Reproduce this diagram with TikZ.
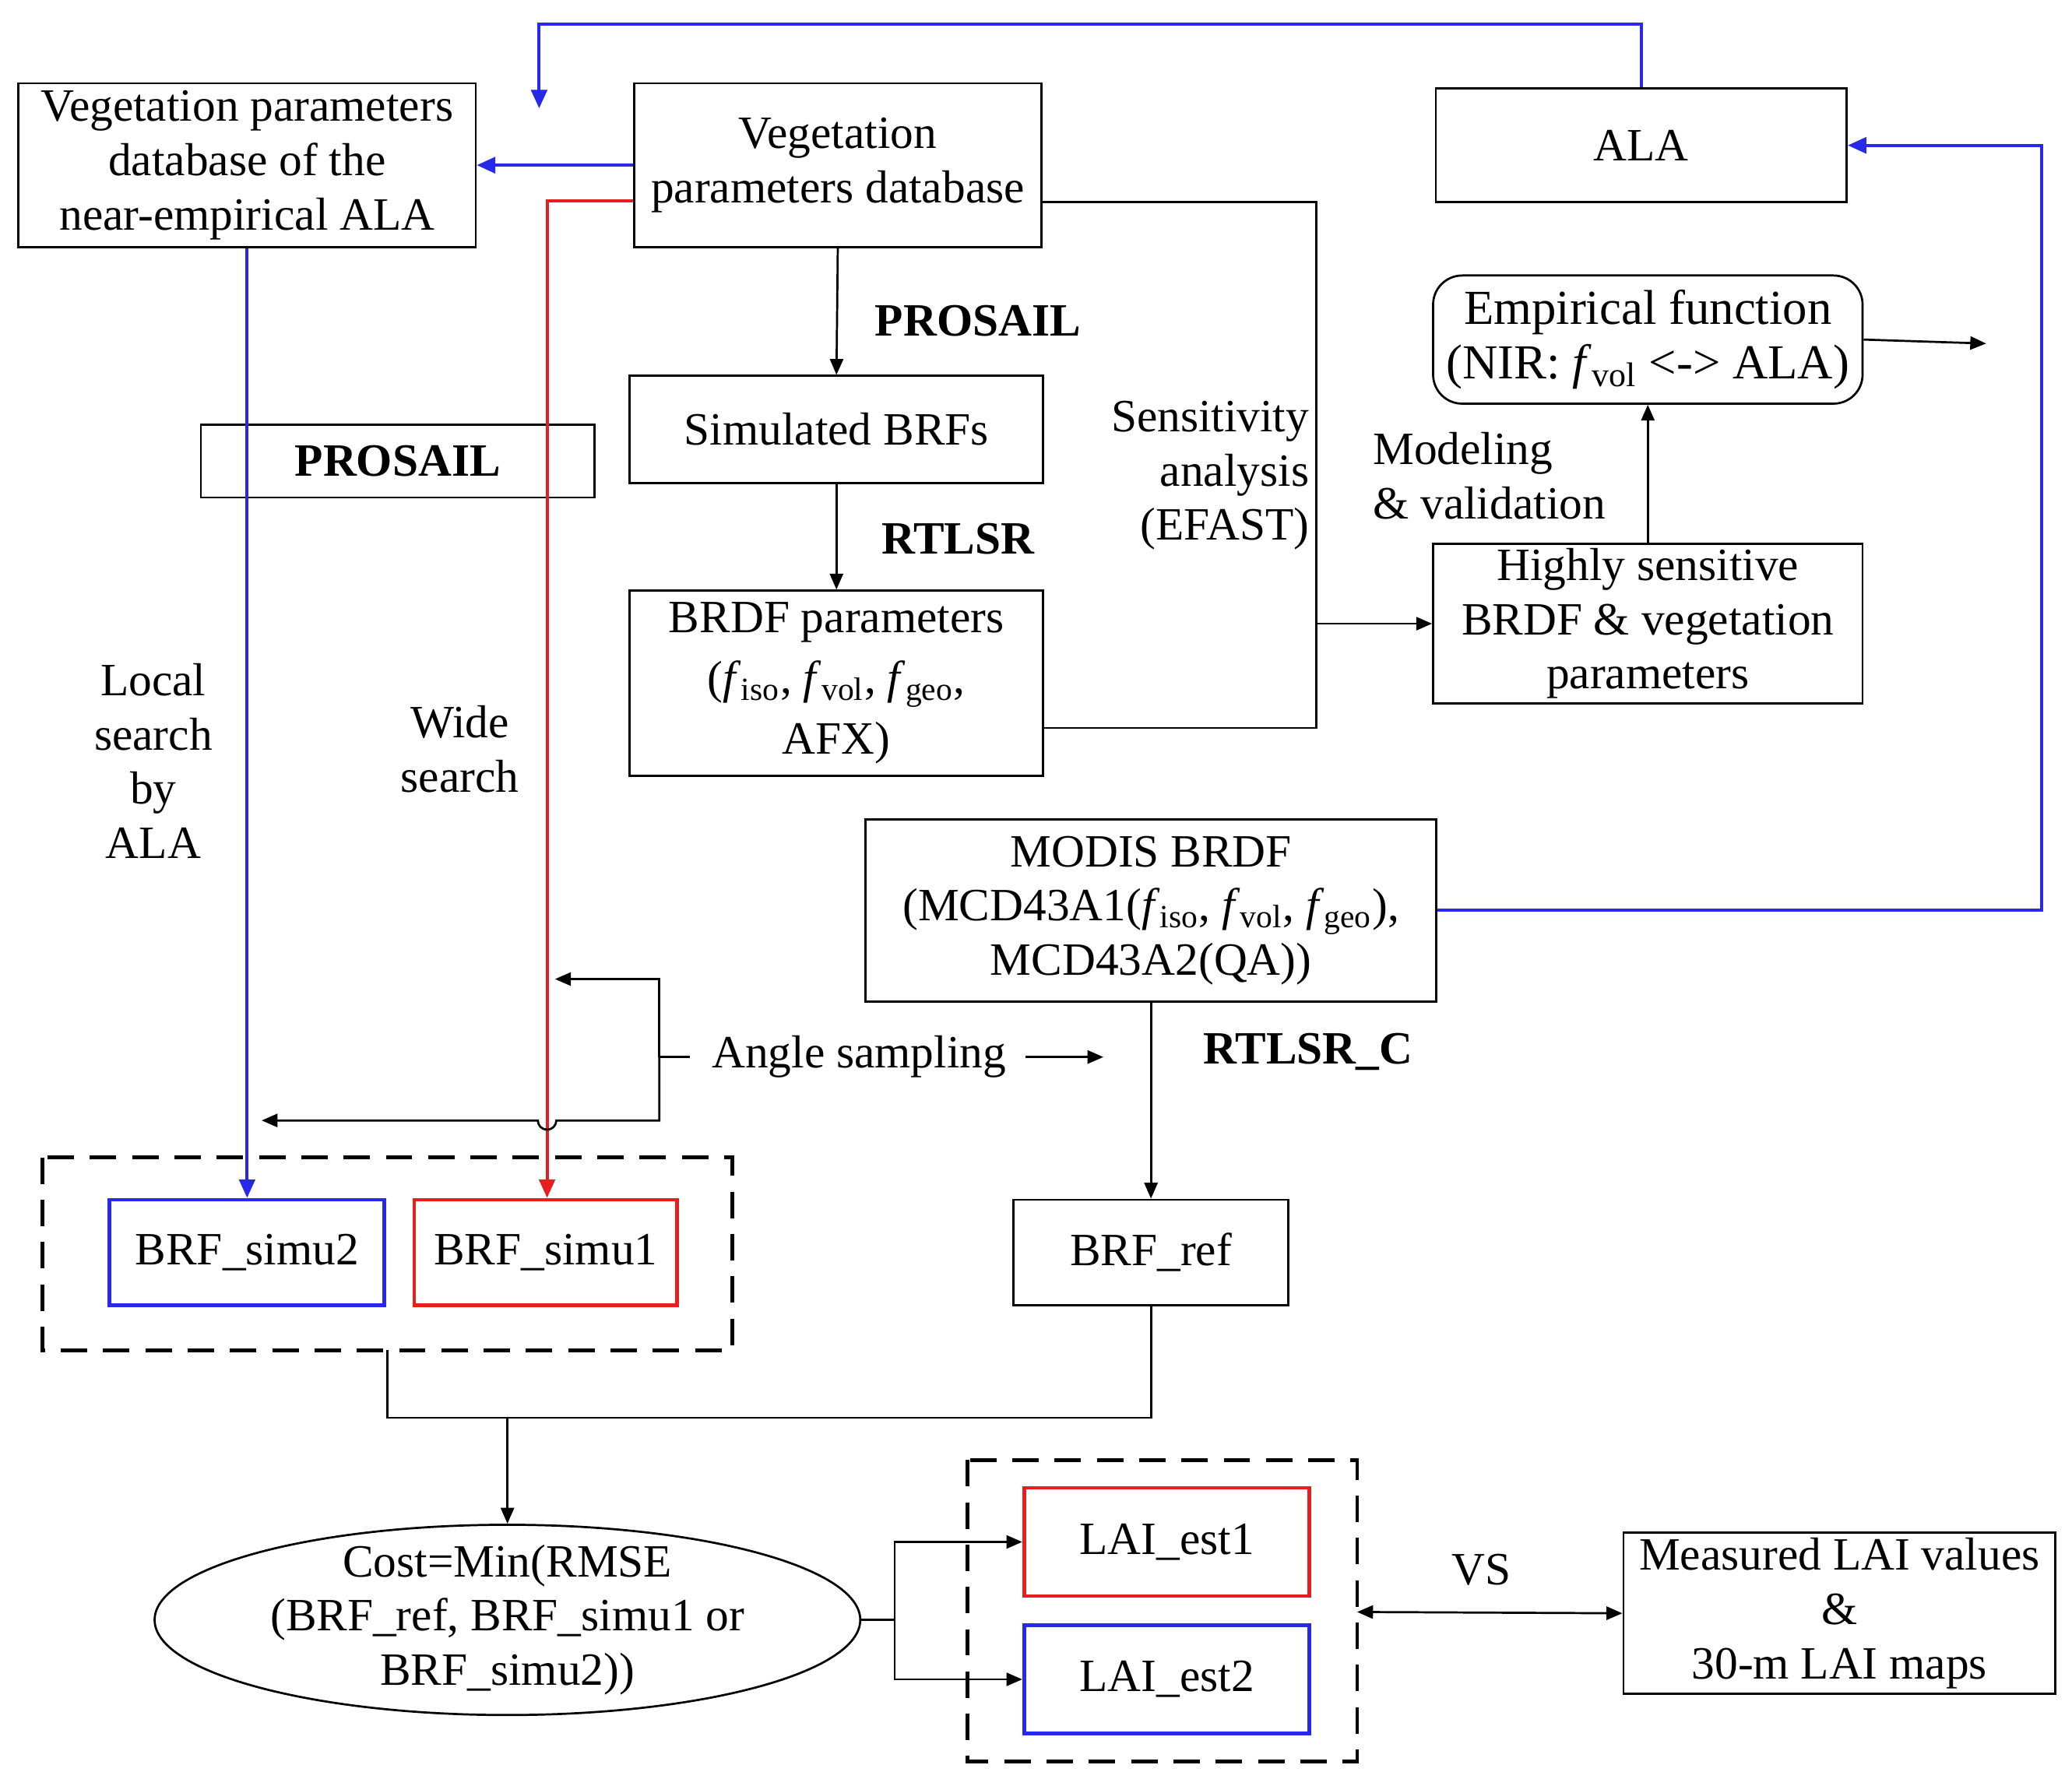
\documentclass[tikz,border=0pt]{standalone}
\usepackage{fontspec}
\setmainfont{Liberation Serif}
\usetikzlibrary{arrows.meta,shapes.geometric}
\newcommand{\fs}[1]{\textit{f}\textsubscript{#1}}
\definecolor{myblue}{RGB}{40,40,235}
\definecolor{myred}{RGB}{230,30,30}
\begin{document}
\begin{tikzpicture}[x=0.5pt,y=-0.5pt,
  every node/.style={font=\fontsize{17.5}{20.5}\selectfont},
  box/.style={draw,line width=0.8pt,align=center,inner sep=0pt},
  ln/.style={line width=0.8pt},
  arr/.style={ln,-{Triangle[length=6pt,width=5pt]}},
  bl/.style={myblue,line width=1.2pt},
  rd/.style={myred,line width=1.2pt},
  dsh/.style={draw,line width=1.4pt,dash pattern=on 10pt off 6pt},
  lbl/.style={align=center,inner sep=0pt}]
\useasboundingbox (0,0) rectangle (1568,1346);
% boxes
\node[box,minimum width=173,minimum height=62] (vala) at (187,125) {Vegetation parameters\\database of the\\near-empirical ALA};
\node[box,minimum width=154,minimum height=62] (vp) at (634,125) {Vegetation\\parameters database};
\node[box,minimum width=155.5,minimum height=43] (ala) at (1242,110) {ALA};
\node[box,rounded corners=11pt,minimum width=162.5,minimum height=48.5] (emp) at (1247,257) {\fontsize{18.5}{24}\selectfont Empirical function\\\fontsize{18.5}{24}\selectfont (NIR: \fs{vol} <-> ALA)};
\node[box,minimum width=156.5,minimum height=40.5] (sim) at (633,325) {Simulated BRFs};
\node[box,minimum width=156.5,minimum height=70,font=\fontsize{17.5}{23}\selectfont] (bp) at (633,517) {BRDF parameters\\(\fs{iso}, \fs{vol}, \fs{geo},\\AFX)};
\node[box,minimum width=149,minimum height=27.5,font=\fontsize{17.5}{20}\selectfont\bfseries] (ps) at (301,349) {PROSAIL};
\node[box,minimum width=162.5,minimum height=60.5] (hs) at (1247,472) {Highly sensitive\\BRDF \& vegetation\\parameters};
\node[box,minimum width=216,minimum height=69] (mod) at (871,689) {MODIS BRDF\\(MCD43A1(\fs{iso}, \fs{vol}, \fs{geo}),\\MCD43A2(QA))};
\node[box,minimum width=104,minimum height=40] (ref) at (871,948) {BRF\_ref};
\node[box,draw=myblue,line width=1.4pt,minimum width=104,minimum height=40] (s2) at (187,948) {BRF\_simu2};
\node[box,draw=myred,line width=1.4pt,minimum width=99.5,minimum height=40] (s1) at (413,948) {BRF\_simu1};
\draw[dsh] (32,876) rectangle (554,1022);
\coordinate (d1b) at (293,1022);
\node[draw,ellipse,line width=0.8pt,minimum width=267,minimum height=72,inner sep=0pt] (cost) at (384,1226) {};
\node[lbl] (costt) at (384,1226) {Cost=Min(RMSE\\(BRF\_ref, BRF\_simu1 or\\BRF\_simu2))};
\node[box,draw=myred,line width=1.4pt,minimum width=108,minimum height=41] (l1) at (883,1167) {LAI\_est1};
\node[box,draw=myblue,line width=1.4pt,minimum width=108,minimum height=41] (l2) at (883,1271) {LAI\_est2};
\draw[dsh] (732,1105) rectangle (1027,1333);
\coordinate (d2l) at (1027,1220);
\node[box,minimum width=163.5,minimum height=61] (meas) at (1392,1221) {Measured LAI values\\\&\\30-m LAI maps};
% labels
\node[lbl,font=\fontsize{17.5}{20}\selectfont\bfseries] at (740,243) {PROSAIL};
\node[lbl,font=\fontsize{17.5}{20}\selectfont\bfseries] at (725,408) {RTLSR};
\node[lbl,font=\fontsize{17.5}{20}\selectfont\bfseries] at (990,796) {RTLSR\_C};
\node[lbl,align=right,anchor=east] at (991,360) {Sensitivity\\analysis\\(EFAST)};
\node[lbl,align=left] at (1127,360) {Modeling\\\& validation};
\node[lbl] at (116,576) {Local\\search\\by\\ALA};
\node[lbl] at (348,567) {Wide\\search};
\node[lbl] (ang) at (650,800) {Angle sampling};
\node[lbl] at (1121,1188) {VS};
% connectors
\draw[bl,-{Triangle[length=7pt,width=6pt]}] (ala.north) -- (1242,18) -- (408,18) -- (408,82);
\draw[bl,-{Triangle[length=7pt,width=6pt]}] (vp.west) -- (vala.east);
\draw[rd,-{Triangle[length=7pt,width=6pt]}] (vp.west |- 0,152) -- (414,152) -- (s1.north -| 414,0);
\draw[bl,-{Triangle[length=7pt,width=6pt]}] (vala.south) -- (s2.north);
\draw[arr] (vp.south) -- (sim.north);
\draw[arr] (sim.south) -- (bp.north);
\draw[ln] (vp.east |- 0,153) -- (996,153) -- (996,551) -- (bp.east |- 0,551);
\draw[arr] (996,472) -- (hs.west);
\draw[arr] (hs.north) -- (emp.south);
\draw[arr] (emp.east) -- (1503,260);
\draw[bl,-{Triangle[length=7pt,width=6pt]}] (mod.east) -- (1545,689) -- (1545,110) -- (ala.east);
\draw[arr] (mod.south) -- (ref.north);
\draw[arr] (776,800) -- (835,800);
\draw[ln] (ang.west) ++(-16,0) -- (499,800);
\draw[arr] (499,800) -- (499,741) -- (420,741);
\draw[arr] (499,800) -- (499,848) -- (421,848) arc[start angle=0,end angle=180,radius=7] -- (198,848);
\draw[ln] (d1b) -- (293,1073) -- (871,1073) -- (ref.south);
\draw[arr] (384,1073) -- (cost.north);
\draw[ln] (cost.east) -- (677,1226);
\draw[arr] (677,1226) -- (677,1167) -- (l1.west);
\draw[arr] (677,1226) -- (677,1271) -- (l2.west);
\draw[ln,{Triangle[length=6pt,width=5pt]}-{Triangle[length=6pt,width=5pt]}] (d2l) -- (meas.west);
\end{tikzpicture}
\end{document}
